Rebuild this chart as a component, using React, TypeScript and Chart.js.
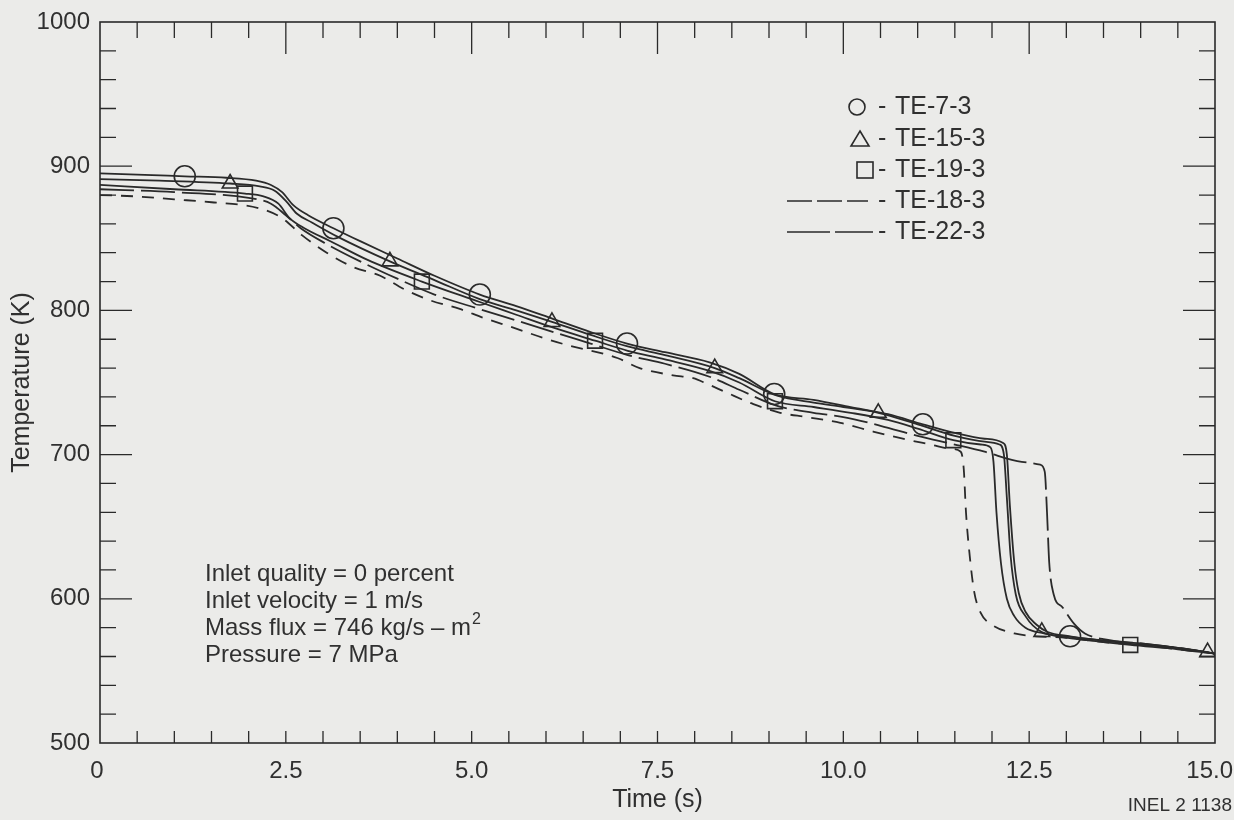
import React, { useEffect, useRef } from "react";
import { Chart, registerables } from "chart.js";

Chart.register(...registerables);

// Thermocouple traces: time (s) and temperature (K)
const te73Time = [0, 0.6, 1.14, 1.7, 2.1, 2.3, 2.45, 2.6, 2.8, 3.14, 3.5, 4.0, 4.5, 5.11, 5.6, 6.1, 6.6, 7.09, 7.6, 8.2, 8.6, 9.07, 9.6, 10.1, 10.6, 11.07, 11.5, 11.9, 12.15, 12.2, 12.24, 12.3, 12.36, 12.45, 12.6, 12.75, 13.05, 13.5, 14.0, 14.5, 15.0];
const te73Temp = [895, 894, 893, 892, 890, 887, 882, 873, 866, 857, 848, 836, 824, 811, 803, 794, 785, 777, 771, 764, 756, 742, 738, 733, 728, 721, 715, 711, 708, 700, 665, 625, 604, 591, 582, 577, 574, 571, 569, 566, 562];
const te73Marks = [1.14, 3.14, 5.11, 7.09, 9.07, 11.07, 13.05];

const te153Time = [0, 0.8, 1.75, 2.15, 2.35, 2.5, 2.65, 2.85, 3.2, 3.9, 4.5, 5.1, 5.6, 6.08, 6.6, 7.1, 7.6, 8.27, 8.6, 9.1, 9.6, 10.0, 10.47, 11.0, 11.5, 11.9, 12.1, 12.16, 12.2, 12.25, 12.32, 12.45, 12.67, 13.0, 13.5, 14.0, 14.5, 14.9, 15.0];
const te153Temp = [891, 890, 888, 886, 883, 876, 867, 861, 851, 834, 821, 808, 800, 792, 783, 775, 769, 760, 753, 741, 736, 733, 729, 721, 713, 709, 707, 700, 670, 630, 603, 588, 577, 574, 571, 568, 566, 563, 562];
const te153Marks = [1.75, 3.9, 6.08, 8.27, 10.47, 12.67, 14.9];

const te193Time = [0, 1.0, 1.95, 2.2, 2.4, 2.55, 2.75, 3.1, 3.6, 4.33, 5.1, 5.6, 6.1, 6.66, 7.1, 7.6, 8.2, 8.6, 9.08, 9.6, 10.1, 10.6, 11.0, 11.48, 11.85, 11.98, 12.02, 12.06, 12.12, 12.2, 12.3, 12.45, 12.7, 13.0, 13.5, 13.86, 14.5, 15.0];
const te193Temp = [887, 884, 881, 879, 874, 864, 857, 848, 835, 820, 806, 797, 788, 779, 772, 766, 758, 750, 737, 733, 729, 724, 718, 710, 707, 705, 695, 660, 625, 600, 588, 580, 576, 573, 570, 568, 565, 562];
const te193Marks = [1.95, 4.33, 6.66, 9.08, 11.48, 13.86];

const te183Time = [0, 0.5, 1.0, 1.5, 2.13, 2.45, 2.72, 3.05, 3.41, 3.77, 4.08, 4.44, 4.84, 5.15, 5.56, 5.96, 6.28, 6.96, 7.26, 7.71, 7.98, 8.17, 8.43, 8.79, 9.15, 9.51, 9.96, 10.4, 10.8, 11.17, 11.45, 11.58, 11.62, 11.65, 11.7, 11.76, 11.85, 12.0, 12.3, 12.6, 13.0, 13.5, 14.0, 14.5, 15.0];
const te183Temp = [880, 879, 877, 875, 871, 864, 852, 840, 830, 824, 815, 807, 801, 795, 788, 781, 776, 767, 760, 755, 753, 749, 743, 735, 729, 726, 722, 716, 711, 707, 704, 702, 690, 660, 630, 605, 590, 582, 576, 574, 573, 570, 568, 565, 562];

const te223Time = [0, 1.0, 2.0, 2.3, 2.5, 2.7, 3.05, 3.5, 4.0, 4.5, 5.1, 5.6, 6.1, 6.6, 7.1, 7.6, 8.2, 8.6, 9.1, 9.6, 10.0, 10.5, 11.0, 11.5, 11.9, 12.4, 12.65, 12.71, 12.74, 12.77, 12.83, 12.95, 13.1, 13.25, 13.5, 14.0, 14.5, 15.0];
const te223Temp = [884, 882, 878, 874, 866, 857, 846, 834, 822, 811, 801, 793, 785, 777, 769, 763, 754, 745, 734, 729, 726, 720, 713, 707, 702, 695, 693, 688, 660, 625, 603, 594, 583, 576, 572, 569, 566, 562];

const seriesLabels = ["TE-7-3", "TE-15-3", "TE-19-3", "TE-18-3", "TE-22-3"];

const timeMin = 0;
const timeMax = 15;
const timeStep = 2.5;
const timeTicks = [0, 2.5, 5, 7.5, 10, 12.5, 15];
const timeTickLabels = ["0", "2.5", "5.0", "7.5", "10.0", "12.5", "15.0"];
const tempMin = 500;
const tempMax = 1000;
const tempStep = 100;

const noteLines = [
  "Inlet quality = 0 percent",
  "Inlet velocity = 1 m/s",
  "Mass flux = 746 kg/s \u2013 m",
  "Pressure = 7 MPa",
];
const figureCode = "INEL 2 1138";

const INK = "#2a2a2a";
const TEXT = "#303030";
const FONT = "'Liberation Sans', Arial, Helvetica, sans-serif";

function pts(t: number[], v: number[]) {
  return t.map((x, i) => ({ x, y: v[i] }));
}

function markRadius(marks: number[], r: number) {
  return (ctx: any) => (ctx.raw && marks.includes(ctx.raw.x) ? r : 0);
}

// Frame, inward tick marks, time labels, legend and the run-conditions note
const decorations = {
  id: "decorations",
  afterDatasetsDraw(chart: any) {
    const { ctx, chartArea: a, scales } = chart;
    const xs = scales.x;
    const ys = scales.y;
    ctx.save();
    ctx.strokeStyle = INK;
    ctx.lineWidth = 1.6;
    ctx.setLineDash([]);
    ctx.strokeRect(a.left, a.top, a.right - a.left, a.bottom - a.top);

    ctx.lineWidth = 1.3;
    ctx.beginPath();
    for (let i = 1; i < 30; i++) {
      const v = i * 0.5;
      const px = xs.getPixelForValue(v);
      const major = i % 5 === 0;
      ctx.moveTo(px, a.top);
      ctx.lineTo(px, a.top + (major ? 32 : 16));
      ctx.moveTo(px, a.bottom);
      ctx.lineTo(px, a.bottom - 12);
    }
    for (let i = 1; i < 25; i++) {
      const v = tempMin + i * 20;
      const py = ys.getPixelForValue(v);
      const major = i % 5 === 0;
      const len = major ? 32 : 16;
      ctx.moveTo(a.left, py);
      ctx.lineTo(a.left + len, py);
      ctx.moveTo(a.right, py);
      ctx.lineTo(a.right - len, py);
    }
    ctx.stroke();
    ctx.restore();
  },
  afterDraw(chart: any) {
    const { ctx, scales } = chart;
    ctx.save();
    ctx.strokeStyle = INK;
    ctx.fillStyle = TEXT;
    ctx.lineWidth = 1.6;

    // time axis labels, kept inside the canvas at the right edge
    ctx.font = `24px ${FONT}`;
    ctx.textAlign = "center";
    ctx.textBaseline = "middle";
    timeTicks.forEach((v, i) => {
      const label = timeTickLabels[i];
      const w = ctx.measureText(label).width;
      let px = scales.x.getPixelForValue(v);
      px = Math.min(px, chart.width - 1 - w / 2);
      if (v === timeMin) px -= 3;
      ctx.fillText(label, px, 771);
    });

    // legend
    const rows = [107, 139, 170, 201, 232];
    ctx.font = `25px ${FONT}`;
    ctx.textAlign = "left";
    rows.forEach((y, i) => {
      ctx.fillText("-", 878, y);
      ctx.fillText(seriesLabels[i], 895, y);
    });
    ctx.setLineDash([]);
    ctx.beginPath();
    ctx.arc(857, rows[0], 8, 0, Math.PI * 2);
    ctx.stroke();
    ctx.beginPath();
    ctx.moveTo(860, rows[1] - 8);
    ctx.lineTo(869, rows[1] + 7);
    ctx.lineTo(851, rows[1] + 7);
    ctx.closePath();
    ctx.stroke();
    ctx.strokeRect(857, rows[2] - 8, 16, 16);
    ctx.beginPath();
    ctx.setLineDash([25, 5]);
    ctx.moveTo(787, rows[3]);
    ctx.lineTo(868, rows[3]);
    ctx.stroke();
    ctx.beginPath();
    ctx.setLineDash([43, 5]);
    ctx.moveTo(787, rows[4]);
    ctx.lineTo(873, rows[4]);
    ctx.stroke();
    ctx.setLineDash([]);

    // conditions note
    ctx.font = `24px ${FONT}`;
    const noteY = [574, 601, 628, 655];
    noteLines.forEach((line, i) => {
      ctx.fillText(line, 205, noteY[i]);
    });
    const w = ctx.measureText(noteLines[2]).width;
    ctx.font = `16px ${FONT}`;
    ctx.fillText("2", 205 + w + 1, noteY[2] - 8);

    // figure code
    ctx.font = `19px ${FONT}`;
    ctx.textAlign = "right";
    ctx.fillText(figureCode, 1232, 806);
    ctx.restore();
  },
};

export default function App() {
  const ref = useRef<HTMLCanvasElement | null>(null);

  useEffect(() => {
    if (!ref.current) return;
    const line = {
      borderColor: INK,
      borderWidth: 1.8,
      pointBorderColor: INK,
      pointBackgroundColor: "rgba(0,0,0,0)",
      pointBorderWidth: 1.6,
      pointHoverRadius: 0,
      pointHitRadius: 0,
      cubicInterpolationMode: "monotone" as const,
      fill: false,
    };
    const chart = new Chart(ref.current, {
      type: "line",
      data: {
        datasets: [
          {
            ...line,
            label: seriesLabels[0],
            data: pts(te73Time, te73Temp),
            pointStyle: "circle",
            pointRadius: markRadius(te73Marks, 10.5),
          },
          {
            ...line,
            label: seriesLabels[1],
            data: pts(te153Time, te153Temp),
            pointStyle: "triangle",
            pointRadius: markRadius(te153Marks, 9),
          },
          {
            ...line,
            label: seriesLabels[2],
            data: pts(te193Time, te193Temp),
            pointStyle: "rect",
            pointRadius: markRadius(te193Marks, 10.5),
          },
          {
            ...line,
            label: seriesLabels[3],
            data: pts(te183Time, te183Temp),
            borderDash: [12, 9],
            pointRadius: 0,
          },
          {
            ...line,
            label: seriesLabels[4],
            data: pts(te223Time, te223Temp),
            borderDash: [34, 7],
            pointRadius: 0,
          },
        ],
      },
      options: {
        animation: false,
        responsive: false,
        maintainAspectRatio: false,
        events: [],
        layout: { padding: { top: 22, right: 19, left: 0, bottom: 0 } },
        plugins: {
          legend: { display: false },
          tooltip: { enabled: false },
        },
        scales: {
          x: {
            type: "linear",
            min: timeMin,
            max: timeMax,
            grid: { display: false, drawTicks: false },
            border: { display: false },
            ticks: { display: false, stepSize: timeStep },
            title: {
              display: true,
              text: "Time (s)",
              color: TEXT,
              font: { family: FONT, size: 25 },
              padding: { top: 0, bottom: 5 },
            },
            afterFit: (s: any) => {
              s.height = 77;
              s.paddingLeft = 0;
              s.paddingRight = 0;
            },
          },
          y: {
            type: "linear",
            min: tempMin,
            max: tempMax,
            grid: { display: false, drawTicks: false },
            border: { display: false },
            ticks: {
              stepSize: tempStep,
              padding: 10,
              color: TEXT,
              font: { family: FONT, size: 24 },
              callback: (v: any) => String(v),
            },
            title: {
              display: true,
              text: "Temperature (K)",
              color: TEXT,
              font: { family: FONT, size: 25 },
              padding: { top: 7, bottom: 0 },
            },
            afterFit: (s: any) => {
              s.width = 100;
              s.paddingTop = 0;
              s.paddingBottom = 0;
            },
          },
        },
      },
      plugins: [decorations],
    });
    return () => chart.destroy();
  }, []);

  return (
    <div
      style={{
        position: "absolute",
        left: 0,
        top: 0,
        width: 1234,
        height: 820,
        background: "#ebebe9",
      }}
    >
      <canvas ref={ref} width={1234} height={820} style={{ display: "block" }} />
    </div>
  );
}
